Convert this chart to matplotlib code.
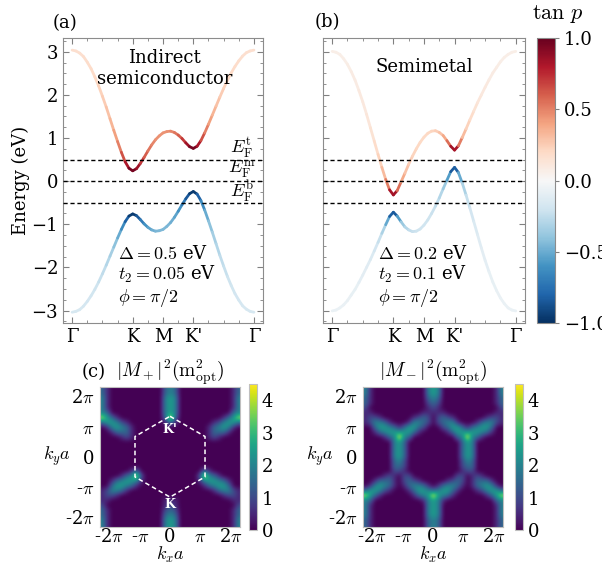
import numpy as np
import matplotlib
matplotlib.use('Agg')
import matplotlib.pyplot as plt
from matplotlib.collections import LineCollection
from matplotlib.colors import Normalize
from matplotlib.ticker import MultipleLocator

plt.rcParams['font.family'] = 'serif'
plt.rcParams['font.serif'] = ['DejaVu Serif']
plt.rcParams['mathtext.fontset'] = 'cm'
plt.rcParams['font.size'] = 13

# k path Gamma - K - M - K' - Gamma (units of 2pi/3a)
k_path = [0.0, 0.125, 0.25, 0.375, 0.5, 0.625, 0.75, 0.875, 1.0, 1.125, 1.25, 1.375,
          1.5, 1.625, 1.75, 1.875, 2.0, 2.125, 2.25, 2.375, 2.5, 2.625, 2.75, 2.875,
          3.0, 3.125, 3.25, 3.375, 3.5, 3.625, 3.75, 3.875, 4.0, 4.125, 4.25, 4.375,
          4.5, 4.625, 4.75, 4.875, 5.0, 5.125, 5.25, 5.375, 5.5, 5.625, 5.75, 5.875, 6.0]
k_ticks = [0, 2, 3, 4, 6]
k_labels = ['Γ', 'K', 'M', "K'", 'Γ']

# panel (a): indirect semiconductor
Ec_a = [3.04, 3.02, 2.97, 2.89, 2.76, 2.61, 2.42, 2.21, 1.97, 1.72, 1.45, 1.18, 0.92, 0.67, 0.45, 0.30, 0.24,
        0.29, 0.41, 0.55, 0.70, 0.84, 0.96, 1.05, 1.12, 1.15, 1.16, 1.13, 1.07, 0.99, 0.89, 0.80, 0.76,
        0.81, 0.94, 1.12, 1.32, 1.53, 1.74, 1.95, 2.15, 2.34, 2.51, 2.66, 2.79, 2.90, 2.98, 3.02, 3.04]
Ev_a = [-3.04, -3.02, -2.98, -2.90, -2.79, -2.66, -2.51, -2.34, -2.15, -1.95, -1.74, -1.53, -1.32, -1.12, -0.94, -0.81, -0.76,
        -0.80, -0.89, -0.99, -1.07, -1.13, -1.16, -1.15, -1.12, -1.05, -0.96, -0.84, -0.70, -0.55, -0.41, -0.29, -0.24,
        -0.30, -0.45, -0.67, -0.92, -1.18, -1.45, -1.72, -1.97, -2.21, -2.42, -2.61, -2.76, -2.89, -2.97, -3.02, -3.04]
tanp_c_a = [0.16, 0.17, 0.17, 0.17, 0.18, 0.19, 0.20, 0.22, 0.24, 0.27, 0.31, 0.37, 0.45, 0.56, 0.72, 0.91, 1.00,
            0.92, 0.77, 0.65, 0.56, 0.51, 0.47, 0.45, 0.45, 0.45, 0.47, 0.51, 0.56, 0.65, 0.77, 0.92, 1.00,
            0.91, 0.72, 0.56, 0.45, 0.37, 0.31, 0.27, 0.24, 0.22, 0.20, 0.19, 0.18, 0.17, 0.17, 0.17, 0.16]
tanp_v_a = [-0.16, -0.17, -0.17, -0.17, -0.18, -0.19, -0.20, -0.22, -0.24, -0.27, -0.31, -0.37, -0.45, -0.56, -0.72, -0.91, -1.00,
            -0.92, -0.77, -0.65, -0.56, -0.51, -0.47, -0.45, -0.45, -0.45, -0.47, -0.51, -0.56, -0.65, -0.77, -0.92, -1.00,
            -0.91, -0.72, -0.56, -0.45, -0.37, -0.31, -0.27, -0.24, -0.22, -0.20, -0.19, -0.18, -0.17, -0.17, -0.17, -0.16]

# panel (b): semimetal
Ec_b = [3.01, 2.99, 2.94, 2.84, 2.71, 2.54, 2.34, 2.10, 1.84, 1.55, 1.24, 0.93, 0.62, 0.32, 0.04, -0.20, -0.32,
        -0.22, -0.02, 0.18, 0.39, 0.58, 0.75, 0.90, 1.02, 1.11, 1.16, 1.17, 1.13, 1.06, 0.94, 0.81, 0.72,
        0.82, 1.01, 1.21, 1.42, 1.62, 1.82, 2.00, 2.18, 2.35, 2.51, 2.64, 2.77, 2.87, 2.94, 2.99, 3.01]
Ev_b = [-3.01, -2.99, -2.94, -2.87, -2.77, -2.64, -2.51, -2.35, -2.18, -2.00, -1.82, -1.62, -1.42, -1.21, -1.01, -0.82, -0.72,
        -0.81, -0.94, -1.06, -1.13, -1.17, -1.16, -1.11, -1.02, -0.90, -0.75, -0.58, -0.39, -0.18, 0.02, 0.22, 0.32,
        0.20, -0.04, -0.32, -0.62, -0.93, -1.24, -1.55, -1.84, -2.10, -2.34, -2.54, -2.71, -2.84, -2.94, -2.99, -3.01]
tanp_c_b = [0.07, 0.07, 0.07, 0.07, 0.07, 0.08, 0.08, 0.09, 0.10, 0.11, 0.13, 0.16, 0.20, 0.26, 0.38, 0.65, 1.00,
            0.68, 0.43, 0.32, 0.26, 0.23, 0.21, 0.20, 0.20, 0.20, 0.21, 0.23, 0.26, 0.32, 0.43, 0.68, 1.00,
            0.65, 0.38, 0.26, 0.20, 0.16, 0.13, 0.11, 0.10, 0.09, 0.08, 0.08, 0.07, 0.07, 0.07, 0.07, 0.07]
tanp_v_b = [-0.07, -0.07, -0.07, -0.07, -0.07, -0.08, -0.08, -0.09, -0.10, -0.11, -0.13, -0.16, -0.20, -0.26, -0.38, -0.65, -1.00,
            -0.68, -0.43, -0.32, -0.26, -0.23, -0.21, -0.20, -0.20, -0.20, -0.21, -0.23, -0.26, -0.32, -0.43, -0.68, -1.00,
            -0.65, -0.38, -0.26, -0.20, -0.16, -0.13, -0.11, -0.10, -0.09, -0.08, -0.08, -0.07, -0.07, -0.07, -0.07, -0.07]

fermi_levels = [0.5, 0.0, -0.5]
fermi_names = ['t', 'm', 'b']

# |M+|^2 and |M-|^2 maps, digits in steps of 0.5 m_opt^2, rows from top (ky>0) to bottom
m_plus_rows = [
    "31000000000003430000000000013",
    "31000000000003430000000000013",
    "41000000000004540000000000014",
    "41000000000004540000000000014",
    "41000000000004540000000000014",
    "43000000000004540000000000034",
    "85310000000003930000000001358",
    "35542100000001310000000124553",
    "01454310000000000000001345410",
    "00133310000000000000001333100",
    "00001210000000000000001210000",
    "00000000000000000000000000000",
    "00000000000000000000000000000",
    "00000000000000000000000000000",
    "00000000000000000000000000000",
    "00000000000000000000000000000",
    "00000000000000000000000000000",
    "00000013000000000000031000000",
    "00001349200000000000294310000",
    "00134554100000000000145543100",
    "00355431000000000000013455300",
    "12443100000000000000000134421",
    "12210000000000000000000001221",
    "11000000000001110000000000011",
    "20000000000001210000000000002",
    "31000000000002320000000000013",
    "31000000000003430000000000013",
    "41000000000004540000000000014",
    "41000000000004540000000000014",
]
m_minus_rows = [
    "41000000000004540000000000014",
    "41000000000004540000000000014",
    "31000000000003430000000000013",
    "31000000000002320000000000013",
    "20000000000001210000000000002",
    "11000000000011111000000000011",
    "12210000001232023210000001221",
    "12443100014432023441000134421",
    "00355431355320002355313455300",
    "00134555553100000135555543100",
    "00001349430000000003494310000",
    "00000045300000000000354000000",
    "00000045300000000000354000000",
    "00000045300000000000354000000",
    "00000045300000000000354000000",
    "00000034200000000000243000000",
    "00000033200000000000233000000",
    "00000022100000000000122000000",
    "00001210220000000002201210000",
    "00133310232100000123201333100",
    "01454310134431013443101345410",
    "35542100013554345531000124553",
    "85310000001345954310000001358",
    "43000000000014541000000000034",
    "41000000000004540000000000014",
    "41000000000004540000000000014",
    "41000000000004540000000000014",
    "31000000000003430000000000013",
    "31000000000003430000000000013",
]
bz_half = 7.255
bz_kx = [0.0, 3.628, 3.628, 0.0, -3.628, -3.628, 0.0]
bz_ky = [4.189, 2.094, -2.094, -4.189, -2.094, 2.094, 4.189]
pi_ticks = [-2 * np.pi, -np.pi, 0, np.pi, 2 * np.pi]
pi_labels = [r'-2$\pi$', r'-$\pi$', '0', r'$\pi$', r'2$\pi$']

fig = plt.figure(figsize=(6.02, 5.65), dpi=100)
ax_a = fig.add_axes([0.1047, 0.4283, 0.3322, 0.5044])
ax_b = fig.add_axes([0.5365, 0.4283, 0.3355, 0.5044])
cax_top = fig.add_axes([0.892, 0.4283, 0.0299, 0.5044])

norm_tp = Normalize(-1, 1)


def band(ax, E, tp):
    pts = np.column_stack([k_path, E])
    segs = np.stack([pts[:-1], pts[1:]], axis=1)
    lc = LineCollection(segs, cmap='RdBu_r', norm=norm_tp, linewidth=2.0, capstyle='round')
    tp = np.array(tp)
    lc.set_array((tp[:-1] + tp[1:]) / 2)
    ax.add_collection(lc)
    return lc


for ax, bands in [(ax_a, [(Ec_a, tanp_c_a), (Ev_a, tanp_v_a)]),
                  (ax_b, [(Ec_b, tanp_c_b), (Ev_b, tanp_v_b)])]:
    for E, tp in bands:
        lc = band(ax, E, tp)
    for lvl in fermi_levels:
        ax.axhline(lvl, color='k', ls=(0, (3, 2)), lw=1.0, zorder=3)
    ax.set_xlim(-0.3, 6.3)
    ax.set_ylim(-3.29, 3.32)
    ax.set_xticks(k_ticks, k_labels)
    ax.xaxis.set_minor_locator(MultipleLocator(0.5))
    ax.yaxis.set_major_locator(MultipleLocator(1))
    ax.yaxis.set_minor_locator(MultipleLocator(0.25))
    ax.tick_params(which='both', direction='in', top=True, right=True, color='0.5')
    ax.tick_params(which='major', length=4.5)
    ax.tick_params(which='minor', length=2.5)
    for sp in ax.spines.values():
        sp.set_color('0.55')

ax_b.tick_params(labelleft=False)
ax_a.set_ylabel('Energy (eV)', labelpad=1)

ax_a.text(3.05, 2.62, 'Indirect\nsemiconductor', ha='center', va='center')
ax_b.text(3.0, 2.65, 'Semimetal', ha='center', va='center')
ax_a.text(1.5, -2.22, '$\\Delta = 0.5$ eV\n$t_2 = 0.05$ eV\n$\\phi = \\pi/2$',
          ha='left', va='center', linespacing=1.1)
ax_b.text(1.5, -2.22, '$\\Delta = 0.2$ eV\n$t_2 = 0.1$ eV\n$\\phi = \\pi/2$',
          ha='left', va='center', linespacing=1.1)
for lvl, nm in zip(fermi_levels, fermi_names):
    ax_a.text(5.6, lvl + 0.27, r'$E_{\rm F}^{\rm %s}$' % nm, ha='center', va='center')

fig.text(53 / 602, 1 - 23 / 565, '(a)', va='center')
fig.text(315 / 602, 1 - 22 / 565, '(b)', va='center')

cb = fig.colorbar(lc, cax=cax_top, ticks=[-1, -0.5, 0, 0.5, 1])
cb.outline.set_edgecolor('0.55')
cb.ax.tick_params(color='0.5', length=3)
fig.text(558 / 602, 1 - 14 / 565, r'$\tan\, p$', ha='center', va='center', fontsize=16)

# bottom maps
ax_c = fig.add_axes([0.1661, 0.0678, 0.2326, 0.2478])
cax_c = fig.add_axes([0.4136, 0.0619, 0.0133, 0.2584])
ax_d = fig.add_axes([0.603, 0.0678, 0.2326, 0.2478])
cax_d = fig.add_axes([0.8555, 0.0619, 0.0133, 0.2584])

titles = [r'$|M_+|^2(\mathrm{m}^2_{\mathrm{opt}})$', r'$|M_-|^2(\mathrm{m}^2_{\mathrm{opt}})$']
for ax, cax, rows, title in [(ax_c, cax_c, m_plus_rows, titles[0]),
                             (ax_d, cax_d, m_minus_rows, titles[1])]:
    vals = np.array([[int(ch) for ch in r] for r in rows]) / 2.0
    im = ax.imshow(vals, cmap='viridis', vmin=0, vmax=4.5, origin='upper',
                   extent=[-bz_half, bz_half, -bz_half, bz_half],
                   interpolation='bicubic', aspect='auto')
    ax.set_xlim(-bz_half, bz_half)
    ax.set_ylim(-bz_half, bz_half)
    ax.set_xticks(pi_ticks, pi_labels)
    ax.set_yticks(pi_ticks, pi_labels)
    ax.tick_params(axis='x', length=0, pad=1)
    ax.tick_params(axis='y', length=0, pad=4)
    for sp in ax.spines.values():
        sp.set_color('0.75')
    ax.set_xlabel(r'$k_x a$', labelpad=-1)
    ax.set_ylabel(r'$k_y a$', rotation=0, ha='center', va='center')
    ax.yaxis.set_label_coords(-0.31, 0.5)
    ax.set_title(title, fontsize=14, pad=5)
    c = fig.colorbar(im, cax=cax, ticks=[0, 1, 2, 3, 4])
    c.outline.set_edgecolor('0.75')
    c.ax.tick_params(length=0)

ax_c.plot(bz_kx, bz_ky, color='white', ls=(0, (3, 2)), lw=1.1)
ax_c.text(0, 2.8, "K'", color='white', ha='center', va='center', fontsize=9, fontweight='bold')
ax_c.text(0, -4.95, 'K', color='white', ha='center', va='center', fontsize=9, fontweight='bold')
fig.text(82 / 602, 1 - 372 / 565, '(c)', va='center')

fig.savefig('out.png', dpi=100)
